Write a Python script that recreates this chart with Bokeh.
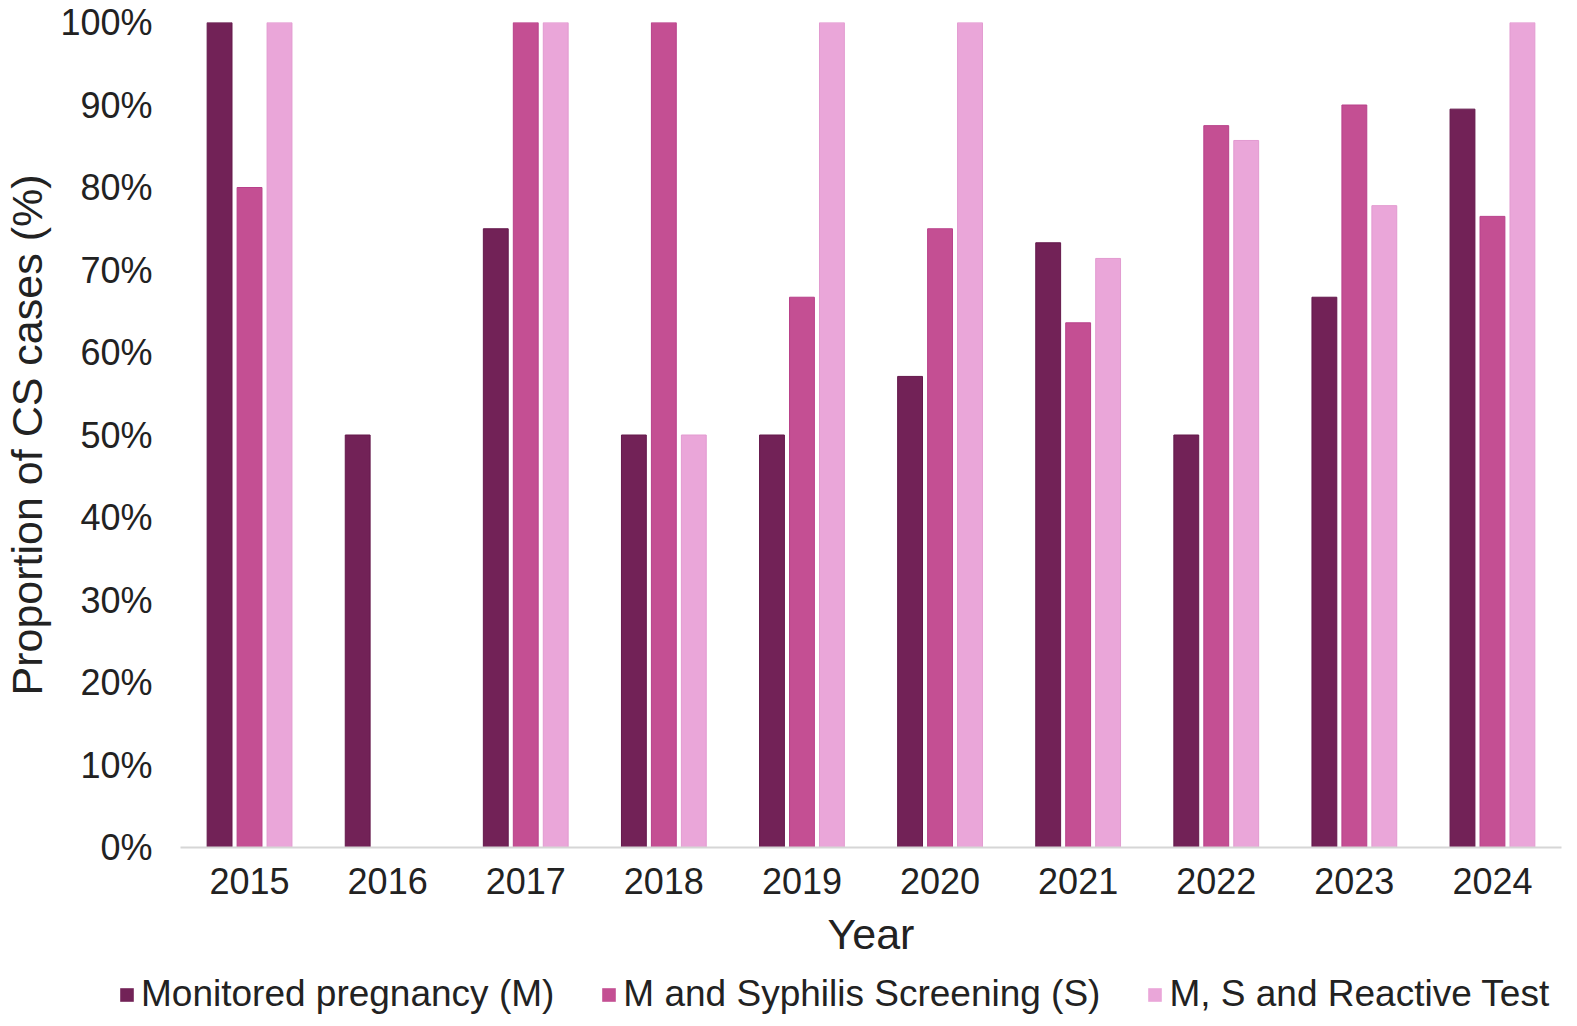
from bokeh.plotting import figure
from bokeh.layouts import column
from bokeh.models import (ColumnDataSource, FactorRange, Range1d, FixedTicker,
                          PrintfTickFormatter, Legend, LegendItem)
from bokeh.transform import dodge
from bokeh.embed import file_html
from bokeh.resources import INLINE

# Share of congenital syphilis (CS) cases per year, in percent
years = ["2015", "2016", "2017", "2018", "2019", "2020", "2021", "2022", "2023", "2024"]
monitored = [100, 50, 75, 50, 50, 57.1, 73.3, 50, 66.7, 89.5]
screening = [80, 0, 100, 100, 66.7, 75, 63.6, 87.5, 90, 76.5]
reactive = [100, 0, 100, 50, 100, 100, 71.4, 85.7, 77.8, 100]

series_names = ["Monitored pregnancy (M)", "M and Syphilis Screening (S)", "M, S and Reactive Test"]
colors = ["#722257", "#C44F93", "#EAA6D9"]
edges = ["#64184b", "#b8408a", "#e29ad0"]
cols = ["m", "s", "r"]
offsets = [-0.217, 0.0, 0.217]

src = ColumnDataSource(dict(year=years, m=monitored, s=screening, r=reactive))

FONT = "Liberation Sans"
TEXT = "#222222"
W = 1577

p = figure(
    width=W, height=965,
    x_range=FactorRange(*years, range_padding=0),
    y_range=Range1d(0, 100),
    output_backend="svg", toolbar_location=None,
    min_border_left=180, min_border_right=16, min_border_top=22, min_border_bottom=118,
)
p.outline_line_color = None
p.xgrid.grid_line_color = None
p.ygrid.grid_line_color = None

for col, off, fc, lc in zip(cols, offsets, colors, edges):
    p.vbar(x=dodge("year", off, range=p.x_range), top=col, width=0.18,
           source=src, fill_color=fc, line_color=lc, line_width=1)

# y axis
p.yaxis.ticker = FixedTicker(ticks=list(range(0, 101, 10)))
p.yaxis.formatter = PrintfTickFormatter(format="%d%%")
p.yaxis.axis_line_color = None
p.yaxis.major_tick_line_color = None
p.yaxis.minor_tick_line_color = None
p.yaxis.major_label_standoff = 22
p.yaxis.major_label_text_font = FONT
p.yaxis.major_label_text_font_size = "36px"
p.yaxis.major_label_text_color = TEXT
p.yaxis.axis_label = "Proportion of CS cases (%)"
p.yaxis.axis_label_text_font = FONT
p.yaxis.axis_label_text_font_size = "43px"
p.yaxis.axis_label_text_font_style = "normal"
p.yaxis.axis_label_text_color = TEXT
p.yaxis.axis_label_standoff = 6

# x axis
p.xaxis.axis_line_color = "#d6d6d6"
p.xaxis.axis_line_width = 2
p.xaxis.major_tick_line_color = None
p.xaxis.minor_tick_line_color = None
p.xaxis.major_label_standoff = 14
p.xaxis.major_label_text_font = FONT
p.xaxis.major_label_text_font_size = "36px"
p.xaxis.major_label_text_color = TEXT
p.xaxis.axis_label = "Year"
p.xaxis.axis_label_text_font = FONT
p.xaxis.axis_label_text_font_size = "43px"
p.xaxis.axis_label_text_font_style = "normal"
p.xaxis.axis_label_text_color = TEXT
p.xaxis.axis_label_standoff = 13

# legend strip below the chart: same series, with the bars kept out of view
leg = figure(
    width=W, height=1026 - 965,
    x_range=FactorRange(*years), y_range=Range1d(1000, 2000),
    output_backend="svg", toolbar_location=None,
    x_axis_location=None, y_axis_location=None,
    min_border=0, min_border_left=0, min_border_right=0,
    min_border_top=0, min_border_bottom=0,
)
leg.frame_align = False
leg.grid.visible = False
leg.outline_line_color = None
keys = []
for col, fc in zip(cols, colors):
    keys.append(leg.vbar(x="year", top=col, width=0.18, source=src,
                         fill_color=fc, line_color=None))

legend = Legend(
    items=[LegendItem(label=n, renderers=[r]) for n, r in zip(series_names, keys)],
    orientation="horizontal",
    location=(118, 11),
    label_text_font=FONT,
    label_text_font_size="37px",
    label_text_color=TEXT,
    glyph_width=17, glyph_height=17,
    label_standoff=6, spacing=46, padding=4, margin=0,
    border_line_color=None, background_fill_alpha=0,
)
leg.add_layout(legend)

layout = column(p, leg, spacing=0)
open("out.html", "w").write(file_html(layout, INLINE))
